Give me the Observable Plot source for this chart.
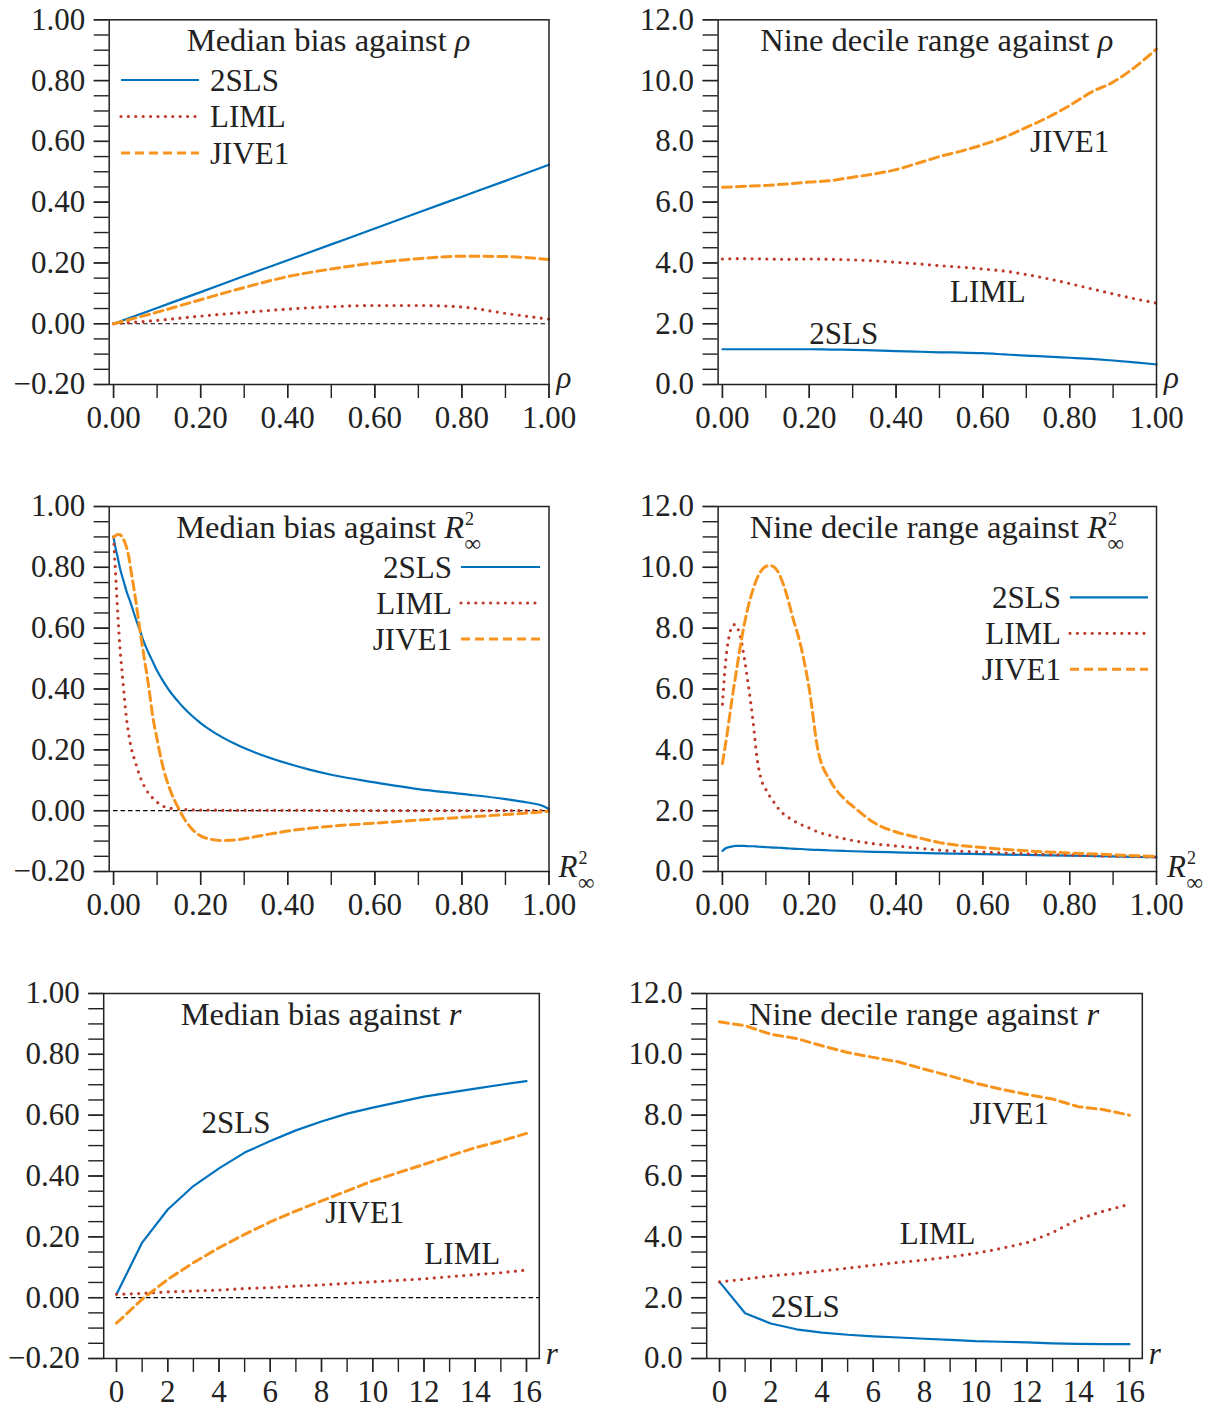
<!DOCTYPE html>
<html><head><meta charset="utf-8">
<script src="https://cdn.jsdelivr.net/npm/d3@7"></script>
<script src="https://cdn.jsdelivr.net/npm/@observablehq/plot@0.6"></script>
<style>
html,body{margin:0;padding:0;background:#fff;}
#wrap{position:relative;width:1221px;height:1410px;overflow:hidden;background:#fff;}
#wrap svg{position:absolute;overflow:visible;}
</style></head><body><div id="wrap"></div>
<script>
// ---------------- data ----------------
const seriesNames = ["2SLS", "LIML", "JIVE1"];

// Median bias against rho
const biasRhoX     = [0, 0.1, 0.2, 0.3, 0.4, 0.5, 0.6, 0.7, 0.8, 0.9, 1.0];
const biasRho2SLS  = [0, 0.052, 0.104, 0.157, 0.209, 0.261, 0.313, 0.366, 0.418, 0.47, 0.523];
const biasRhoLIML  = [0, 0.011, 0.025, 0.037, 0.048, 0.056, 0.06, 0.06, 0.055, 0.034, 0.015];
const biasRhoJIVE1 = [0, 0.038, 0.079, 0.119, 0.155, 0.18, 0.2, 0.214, 0.222, 0.221, 0.211];

// Nine decile range against rho
const ndrRhoX     = [0, 0.05, 0.1, 0.15, 0.2, 0.25, 0.3, 0.35, 0.4, 0.45, 0.5, 0.55, 0.6, 0.65, 0.7, 0.75, 0.8, 0.85, 0.9, 0.95, 1.0];
const ndrRho2SLS  = [1.16, 1.16, 1.16, 1.16, 1.16, 1.15, 1.14, 1.12, 1.1, 1.08, 1.06, 1.05, 1.03, 0.99, 0.95, 0.92, 0.88, 0.84, 0.79, 0.73, 0.66];
const ndrRhoLIML  = [4.13, 4.14, 4.13, 4.12, 4.13, 4.12, 4.1, 4.07, 4.02, 3.97, 3.91, 3.86, 3.8, 3.73, 3.62, 3.48, 3.32, 3.15, 2.98, 2.82, 2.68];
const ndrRhoJIVE1 = [6.49, 6.52, 6.55, 6.6, 6.66, 6.71, 6.82, 6.93, 7.07, 7.28, 7.5, 7.68, 7.89, 8.14, 8.46, 8.79, 9.18, 9.62, 9.95, 10.44, 11.04];

// grid for R^2_inf panels
const r2X = [0, 0.005, 0.01, 0.015, 0.02, 0.025, 0.03, 0.035, 0.04, 0.05, 0.06, 0.07, 0.08, 0.09, 0.1, 0.11, 0.12, 0.13, 0.14, 0.15, 0.16, 0.18, 0.2, 0.22, 0.25, 0.28, 0.3, 0.35, 0.4, 0.45, 0.5, 0.6, 0.7, 0.8, 0.9, 0.95, 0.99, 1.0];

// Median bias against R^2_inf
const biasR2_2SLS  = [0.899, 0.86, 0.83, 0.795, 0.77, 0.745, 0.72, 0.70, 0.68, 0.635, 0.595, 0.553, 0.52, 0.49, 0.46, 0.435, 0.412, 0.391, 0.373, 0.356, 0.34, 0.312, 0.288, 0.267, 0.241, 0.219, 0.206, 0.178, 0.155, 0.135, 0.118, 0.093, 0.071, 0.055, 0.038, 0.027, 0.013, 0.005];
const biasR2_LIML  = [0.9, 0.77, 0.64, 0.53, 0.45, 0.37, 0.30, 0.25, 0.21, 0.16, 0.115, 0.082, 0.058, 0.041, 0.028, 0.018, 0.011, 0.008, 0.006, 0.005, 0.004, 0.003, 0.002, 0.002, 0.001, 0.001, 0.001, 0.001, 0.001, 0.001, 0, 0, 0, 0, 0, 0, 0, 0];
const biasR2_JIVE1 = [0.899, 0.905, 0.908, 0.907, 0.9, 0.885, 0.865, 0.835, 0.79, 0.70, 0.60, 0.505, 0.415, 0.31, 0.235, 0.165, 0.11, 0.068, 0.034, 0.006, -0.021, -0.06, -0.083, -0.093, -0.098, -0.096, -0.092, -0.079, -0.067, -0.058, -0.051, -0.041, -0.031, -0.022, -0.013, -0.008, -0.003, -0.002];

// Nine decile range against R^2_inf
const ndrR2_2SLS  = [0.68, 0.74, 0.78, 0.80, 0.82, 0.83, 0.84, 0.84, 0.84, 0.84, 0.83, 0.83, 0.82, 0.81, 0.80, 0.79, 0.785, 0.78, 0.77, 0.76, 0.755, 0.74, 0.72, 0.71, 0.69, 0.675, 0.665, 0.645, 0.63, 0.61, 0.595, 0.57, 0.545, 0.52, 0.495, 0.48, 0.47, 0.47];
const ndrR2_LIML  = [5.5, 6.5, 7.25, 7.7, 8.0, 8.1, 8.12, 8.0, 7.8, 7.05, 6.1, 5.0, 3.7, 3.0, 2.7, 2.45, 2.25, 2.05, 1.9, 1.8, 1.7, 1.55, 1.43, 1.3, 1.18, 1.08, 1.02, 0.91, 0.84, 0.77, 0.7, 0.64, 0.58, 0.54, 0.5, 0.49, 0.48, 0.48];
const ndrR2_JIVE1 = [3.55, 4.0, 4.45, 4.95, 5.45, 5.95, 6.4, 6.85, 7.3, 8.1, 8.75, 9.25, 9.65, 9.9, 10.03, 10.06, 10.0, 9.8, 9.45, 9.0, 8.45, 7.45, 6.0, 4.0, 2.95, 2.4, 2.15, 1.6, 1.3, 1.12, 0.95, 0.79, 0.68, 0.61, 0.55, 0.52, 0.5, 0.5];

// r panels
const rX = [0, 1, 2, 3, 4, 5, 6, 7, 8, 9, 10, 11, 12, 13, 14, 15, 16];
const biasR_2SLS  = [0.011, 0.181, 0.29, 0.367, 0.425, 0.477, 0.515, 0.55, 0.579, 0.605, 0.625, 0.643, 0.661, 0.674, 0.687, 0.70, 0.712];
const biasR_LIML  = [0.011, 0.014, 0.019, 0.022, 0.025, 0.03, 0.033, 0.038, 0.042, 0.047, 0.052, 0.057, 0.062, 0.069, 0.076, 0.082, 0.091];
const biasR_JIVE1 = [-0.084, -0.005, 0.06, 0.115, 0.164, 0.208, 0.249, 0.285, 0.318, 0.351, 0.384, 0.411, 0.438, 0.466, 0.493, 0.515, 0.54];
const ndrR_2SLS  = [2.52, 1.49, 1.15, 0.96, 0.85, 0.78, 0.73, 0.69, 0.65, 0.61, 0.57, 0.55, 0.53, 0.5, 0.48, 0.47, 0.47];
const ndrR_LIML  = [2.52, 2.61, 2.72, 2.79, 2.88, 2.97, 3.07, 3.16, 3.24, 3.34, 3.46, 3.62, 3.81, 4.14, 4.58, 4.85, 5.07];
const ndrR_JIVE1 = [11.07, 10.94, 10.66, 10.52, 10.28, 10.06, 9.9, 9.75, 9.51, 9.29, 9.05, 8.85, 8.68, 8.53, 8.28, 8.18, 8.0];

// tick labels
const biasTicks = [-0.2, 0, 0.2, 0.4, 0.6, 0.8, 1.0];
const ndrTicks  = [0, 2, 4, 6, 8, 10, 12];
const unitTicks = [0, 0.2, 0.4, 0.6, 0.8, 1.0];
const rTicks    = [0, 2, 4, 6, 8, 10, 12, 14, 16];

// ---------------- drawing ----------------
const FONT = "'Liberation Serif', 'Times New Roman', serif";
const INK = "#222";
const FS = 31;      // tick / label font size
const FT = 32.5;    // title font size
const COL = {"2SLS": "#0072bd", "LIML": "#bf3a2b", "JIVE1": "#f7941e"};
const STYLE = {
  "2SLS":  {stroke: COL["2SLS"], strokeWidth: 2.2},
  "LIML":  {stroke: COL["LIML"], strokeWidth: 3.2, strokeDasharray: "0 7.4", strokeLinecap: "round"},
  "JIVE1": {stroke: COL["JIVE1"], strokeWidth: 3, strokeDasharray: "9 5"}
};
const rows = (xs, ys) => xs.map((x, i) => ({x, y: ys[i]}));
const fix = v => +v.toFixed(4);

function panel(cfg) {
  const {left, top, width, height, ml, mr, mt, mb, xDomain, yDomain,
         xMinor, xMajor, xFmt, yMinor, yMajor, yFmt, xs, ys, zero, labels, curve} = cfg;
  const marks = [];
  if (zero) marks.push(Plot.ruleY([0], {x1: 0, x2: xDomain[1], stroke: "#000", strokeWidth: 1.1, strokeDasharray: "4.5 3"}));
  seriesNames.forEach((s, k) => marks.push(Plot.line(rows(xs, ys[k]), {x: "x", y: "y", curve: curve || "linear", ...STYLE[s]})));
  if (labels) {
    labels.forEach(l => {
      const k = seriesNames.indexOf(l.s);
      marks.push(Plot.text([{x: xs[l.i], y: ys[k][l.i], t: l.s}],
        {x: "x", y: "y", text: "t", dx: l.dx, dy: l.dy, fontSize: FS, fill: INK, textAnchor: "middle", fontFamily: FONT}));
    });
  }
  marks.push(
    Plot.axisX({ticks: xMinor, tickSize: 14, fill: "none", tickFormat: () => "", label: null, stroke: INK, strokeWidth: 1.4}),
    Plot.axisX({ticks: xMajor, tickSize: 14, tickPadding: 7, tickFormat: xFmt, label: null, stroke: INK, strokeWidth: 1.4, fill: INK, fontSize: FS}),
    Plot.axisY({ticks: yMinor, tickSize: 15, fill: "none", tickFormat: () => "", label: null, stroke: INK, strokeWidth: 1.4}),
    Plot.axisY({ticks: yMajor, tickSize: 15, tickPadding: 9, tickFormat: yFmt, label: null, stroke: INK, strokeWidth: 1.4, fill: INK, fontSize: FS}),
    Plot.frame({stroke: INK, strokeWidth: 1.5})
  );
  const svg = Plot.plot({
    width, height, marginLeft: ml, marginRight: mr, marginTop: mt, marginBottom: mb,
    x: {domain: xDomain}, y: {domain: yDomain},
    style: {fontFamily: FONT, fontSize: FS + "px", color: INK, background: "transparent", overflow: "visible"},
    marks
  });
  svg.style.left = left + "px";
  svg.style.top = top + "px";
  document.getElementById("wrap").appendChild(svg);
  return {svg: d3.select(svg), fx0: ml, fx1: width - mr, fy0: mt, fy1: height - mb};
}

function rich(sel, x, y, parts, anchor, size) {
  const t = sel.append("text").attr("x", x).attr("y", y)
    .attr("text-anchor", anchor).attr("font-family", FONT).attr("font-size", size || FS).attr("fill", INK);
  parts.forEach(p => {
    const ts = t.append("tspan").text(p.t);
    if (p.it) ts.attr("font-style", "italic");
    if (p.size) ts.attr("font-size", p.size);
    if (p.dx) ts.attr("dx", p.dx);
    if (p.dy) ts.attr("dy", p.dy);
  });
  return t;
}
// R with superscript 2 and subscript infinity (stacked)
const R2 = [{t: "R", it: true}, {t: "2", size: 18, dy: -13, dx: 1}, {t: "∞", size: 23, dx: -9.5, dy: 26}];

function legend(p, cfg) {
  seriesNames.forEach((s, k) => {
    const y = cfg.y0 + k * cfg.step;
    p.svg.append("line").attr("x1", cfg.l0).attr("x2", cfg.l1).attr("y1", y).attr("y2", y)
      .attr("stroke", STYLE[s].stroke).attr("stroke-width", STYLE[s].strokeWidth)
      .attr("stroke-dasharray", STYLE[s].strokeDasharray || null)
      .attr("stroke-linecap", STYLE[s].strokeLinecap || null);
    p.svg.append("text").attr("x", cfg.tx).attr("y", y).attr("dy", "0.34em")
      .attr("text-anchor", cfg.anchor).attr("font-family", FONT).attr("font-size", FS).attr("fill", INK).text(s);
  });
}

const minor = (a, b, s) => d3.range(Math.round((b - a) / s) + 1).map(i => fix(a + i * s));
const f2 = d3.format(".2f"), f1 = d3.format(".1f"), f0 = d3.format("d");

const colA = {ml: 108.7, mr: 51.5, width: 600, left: 0, xDomain: [-0.01, 1], xMinor: minor(0, 1, 0.1), xMajor: unitTicks, xFmt: f2, curve: "monotone-x"};
const colB = {ml: 107.6, mr: 65, width: 611, left: 610, xDomain: [-0.01, 1], xMinor: minor(0, 1, 0.1), xMajor: unitTicks, xFmt: f2, curve: "monotone-x"};
const biasY = {yDomain: [-0.2, 1], yMinor: minor(-0.2, 1, 0.05), yMajor: biasTicks, yFmt: f2, zero: true};
const ndrY  = {yDomain: [0, 12], yMinor: minor(0, 12, 0.5), yMajor: ndrTicks, yFmt: f1, zero: false};

// Panel 1
const p1 = panel({...colA, ...biasY, top: 0, height: 440, mt: 19.3, mb: 56,
  xs: biasRhoX, ys: [biasRho2SLS, biasRhoLIML, biasRhoJIVE1]});
rich(p1.svg, (p1.fx0 + p1.fx1) / 2, p1.fy0 + 31.5, [{t: "Median bias against "}, {t: "ρ", it: true}], "middle", FT);
rich(p1.svg, p1.fx1 + 8, p1.fy1 + 4, [{t: "ρ", it: true}], "start");
legend(p1, {y0: 80, step: 36.5, l0: 121, l1: 199, tx: 210, anchor: "start"});

// Panel 2
const p2 = panel({...colB, ...ndrY, top: 0, height: 440, mt: 19.3, mb: 56,
  xs: ndrRhoX, ys: [ndrRho2SLS, ndrRhoLIML, ndrRhoJIVE1],
  labels: [{s: "JIVE1", i: 16, dx: 0, dy: 37}, {s: "LIML", i: 12, dx: 5, dy: 23}, {s: "2SLS", i: 6, dx: -9, dy: -16}]});
rich(p2.svg, (p2.fx0 + p2.fx1) / 2, p2.fy0 + 31.5, [{t: "Nine decile range against "}, {t: "ρ", it: true}], "middle", FT);
rich(p2.svg, p2.fx1 + 8, p2.fy1 + 4, [{t: "ρ", it: true}], "start");

// Panel 3
const p3 = panel({...colA, ...biasY, top: 487, height: 440, mt: 19, mb: 56,
  xs: r2X, ys: [biasR2_2SLS, biasR2_LIML, biasR2_JIVE1]});
rich(p3.svg, (p3.fx0 + p3.fx1) / 2, p3.fy0 + 31.5, [{t: "Median bias against "}, ...R2], "middle", FT);
rich(p3.svg, p3.fx1 + 10, p3.fy1 + 6, R2, "start");
legend(p3, {y0: 80, step: 36, l0: 461, l1: 540, tx: 452, anchor: "end"});

// Panel 4
const p4 = panel({...colB, ...ndrY, top: 487, height: 440, mt: 19, mb: 56,
  xs: r2X, ys: [ndrR2_2SLS, ndrR2_LIML, ndrR2_JIVE1]});
rich(p4.svg, (p4.fx0 + p4.fx1) / 2, p4.fy0 + 31.5, [{t: "Nine decile range against "}, ...R2], "middle", FT);
rich(p4.svg, p4.fx1 + 11, p4.fy1 + 6, R2, "start");
legend(p4, {y0: 110.3, step: 36, l0: 460, l1: 538, tx: 451, anchor: "end"});

// Panel 5
const p5 = panel({left: 0, width: 610, ml: 103.2, mr: 71.2, top: 974, height: 436, mt: 19, mb: 52,
  xDomain: [-0.5, 16.5], xMinor: minor(0, 16, 1), xMajor: rTicks, xFmt: f0, ...biasY,
  xs: rX, ys: [biasR_2SLS, biasR_LIML, biasR_JIVE1],
  labels: [{s: "2SLS", i: 4, dx: 17, dy: -45}, {s: "JIVE1", i: 10, dx: -8, dy: 32}, {s: "LIML", i: 14, dx: -13, dy: -20}]});
rich(p5.svg, (p5.fx0 + p5.fx1) / 2, p5.fy0 + 31.5, [{t: "Median bias against "}, {t: "r", it: true}], "middle", FT);
rich(p5.svg, p5.fx1 + 7, p5.fy1 + 6, [{t: "r", it: true}], "start");

// Panel 6
const p6 = panel({left: 610, width: 611, ml: 96.2, mr: 79.2, top: 974, height: 436, mt: 19, mb: 52,
  xDomain: [-0.5, 16.5], xMinor: minor(0, 16, 1), xMajor: rTicks, xFmt: f0, ...ndrY,
  xs: rX, ys: [ndrR_2SLS, ndrR_LIML, ndrR_JIVE1],
  labels: [{s: "JIVE1", i: 11, dx: 8, dy: 25}, {s: "LIML", i: 8, dx: 13, dy: -26}, {s: "2SLS", i: 3, dx: 9, dy: -22}]});
rich(p6.svg, (p6.fx0 + p6.fx1) / 2, p6.fy0 + 31.5, [{t: "Nine decile range against "}, {t: "r", it: true}], "middle", FT);
rich(p6.svg, p6.fx1 + 7, p6.fy1 + 6, [{t: "r", it: true}], "start");
</script>
</body></html>
